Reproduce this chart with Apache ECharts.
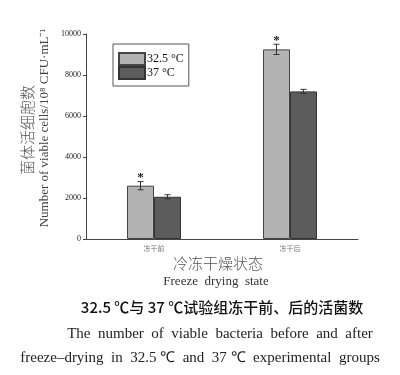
<!DOCTYPE html>
<html>
<head>
<meta charset="utf-8">
<script src="https://cdn.jsdelivr.net/npm/echarts@6/dist/echarts.min.js"></script>
<style>html,body{margin:0;padding:0;background:#fff}#c{width:400px;height:375px}</style>
</head>
<body>
<div id="c"></div>
<script>
var categories = ['冻干前', '冻干后'];
var seriesNames = ['32.5 °C', '37 °C'];
var values325 = [2600, 9250];
var values37 = [2060, 7200];
var err325 = [200, 250];
var err37 = [100, 100];
var sig325 = [true, true];
var sig37 = [false, false];
var yTicks = [0, 2000, 4000, 6000, 8000, 10000];

var chart = echarts.init(document.getElementById('c'));
var BW = 27;

function errData(vals, errs, sigs) {
  return vals.map(function (v, i) { return [i, v, errs[i], sigs[i] ? 1 : 0]; });
}
function makeErr(offset) {
  return function (params, api) {
    var i = api.value(0), v = api.value(1), e = api.value(2), s = api.value(3);
    var top = api.coord([i, v + e]);
    var bot = api.coord([i, v - e]);
    var x = top[0] + offset;
    var st = { stroke: '#333', lineWidth: 1 };
    var ch = [
      { type: 'line', shape: { x1: x, y1: top[1], x2: x, y2: bot[1] }, style: st },
      { type: 'line', shape: { x1: x - 3, y1: top[1], x2: x + 3, y2: top[1] }, style: st },
      { type: 'line', shape: { x1: x - 3, y1: bot[1], x2: x + 3, y2: bot[1] }, style: st }
    ];
    if (s) {
      ch.push({ type: 'text', style: { text: '*', x: x, y: top[1] + 3, textAlign: 'center', textVerticalAlign: 'bottom', fill: '#222', font: 'bold 13px "Liberation Serif"' } });
    }
    return { type: 'group', children: ch };
  };
}

chart.setOption({
  animation: false,
  grid: { left: 86, right: 42, top: 34, bottom: 136 },
  legend: {
    orient: 'vertical', left: 113, top: 44,
    icon: 'rect',
    itemWidth: 26, itemHeight: 12, itemGap: 0,
    padding: [8, 5, 6, 5],
    borderColor: '#555', borderWidth: 1,
    textStyle: { fontFamily: 'Liberation Serif', fontSize: 12, color: '#111', padding: [0, 0, 0, -3] },
    data: seriesNames
  },
  xAxis: {
    type: 'category', data: categories,
    axisLine: { lineStyle: { color: '#444', width: 1 } },
    axisTick: { show: false },
    axisLabel: { fontFamily: 'Noto Sans CJK SC', fontSize: 7, color: '#777', margin: 6 }
  },
  yAxis: {
    type: 'value', min: 0, max: 10000, interval: 2000,
    splitLine: { show: false },
    axisLine: { show: true, lineStyle: { color: '#444', width: 1 } },
    axisTick: { show: true, length: 3, lineStyle: { color: '#444' } },
    axisLabel: { fontFamily: 'Liberation Serif', fontSize: 8, color: '#222', margin: 5,
      formatter: function (v) { return yTicks.indexOf(v) >= 0 ? String(v) : ''; } }
  },
  series: [
    { name: seriesNames[0], type: 'bar', data: values325, barWidth: BW, barGap: '0%',
      itemStyle: { color: '#b3b3b3', borderColor: '#444', borderWidth: 1 } },
    { name: seriesNames[1], type: 'bar', data: values37, barWidth: BW,
      itemStyle: { color: '#5c5c5c', borderColor: '#333', borderWidth: 1 } },
    { type: 'custom', renderItem: makeErr(-BW / 2), data: errData(values325, err325, sig325), z: 5 },
    { type: 'custom', renderItem: makeErr(BW / 2), data: errData(values37, err37, sig37), z: 5 }
  ],
  graphic: [
    { type: 'text', x: 27, y: 130, rotation: Math.PI / 2,
      style: { text: '菌体活细胞数', textAlign: 'center', textVerticalAlign: 'middle', font: '300 15px "Noto Sans CJK SC"', fill: '#555' } },
    { type: 'text', x: 45, y: 128, rotation: Math.PI / 2,
      style: { text: 'Number of viable cells/10⁸ CFU·mL⁻¹', textAlign: 'center', textVerticalAlign: 'middle', font: '13px "Liberation Serif"', fill: '#444' } },
    { type: 'text', x: 218, y: 263,
      style: { text: '冷冻干燥状态', textAlign: 'center', textVerticalAlign: 'middle', font: '300 15px "Noto Sans CJK SC"', fill: '#555' } },
    { type: 'text', x: 216, y: 282,
      style: { text: 'Freeze  drying  state', textAlign: 'center', textVerticalAlign: 'middle', font: '13px "Liberation Serif"', fill: '#333' } },
    { type: 'text', x: 222, y: 307,
      style: { text: '32.5 ℃与 37 ℃试验组冻干前、后的活菌数', textAlign: 'center', textVerticalAlign: 'middle', font: '500 15px "Noto Sans CJK SC"', fill: '#111' } },
    { type: 'text', x: 220, y: 334,
      style: { text: 'The  number  of  viable  bacteria  before  and  after', textAlign: 'center', textVerticalAlign: 'middle', font: '15px "Liberation Serif"', fill: '#222' } },
    { type: 'text', x: 200, y: 358,
      style: { text: 'freeze–drying  in  32.5 ℃  and  37 ℃  experimental  groups', textAlign: 'center', textVerticalAlign: 'middle', font: '15px "Liberation Serif"', fill: '#222' } }
  ]
});
</script>
</body>
</html>
